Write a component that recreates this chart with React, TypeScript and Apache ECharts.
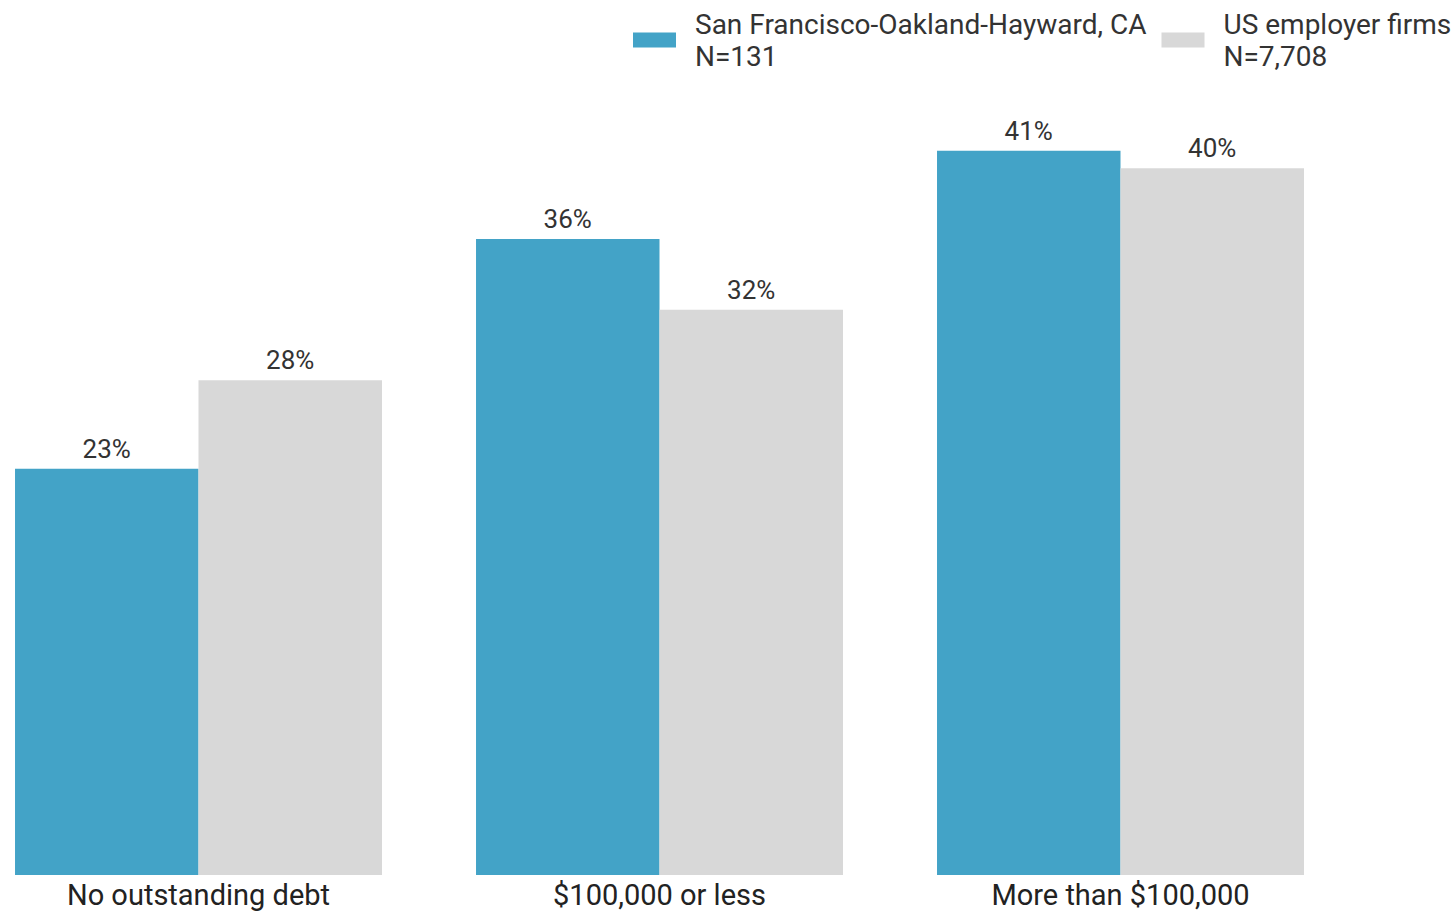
import React, { useEffect, useRef } from "react";
import * as echarts from "echarts";

const categories = ["No outstanding debt", "$100,000 or less", "More than $100,000"];
const sfValues = [23, 36, 41];
const usValues = [28, 32, 40];
const seriesNames = ["San Francisco-Oakland-Hayward, CA\nN=131", "US employer firms\nN=7,708"];

export default function App() {
  const ref = useRef<HTMLDivElement>(null);
  useEffect(() => {
    const chart = echarts.init(ref.current!, null, { renderer: "svg" });
    const font = "Roboto, 'Noto Sans', sans-serif";
    chart.setOption({
      animation: false,
      textStyle: { fontFamily: font },
      legend: {
        left: 665,
        top: 3,
        width: 1000,
        padding: 0,
        orient: "horizontal",
        itemWidth: 43,
        itemHeight: 15,
        itemGap: 0,
        icon: "rect",
        textStyle: { fontSize: 28, color: "#333", lineHeight: 32, fontFamily: font, padding: [0, 15, 10, 14] },
        data: seriesNames,
      },
      grid: { left: 0, right: 104, top: 80, bottom: 38, containLabel: false },
      xAxis: {
        type: "category",
        data: categories,
        axisLine: { show: false },
        axisTick: { show: false },
        axisLabel: { fontSize: 29, color: "#222", margin: 5, fontFamily: font, lineHeight: 30 },
      },
      yAxis: { type: "value", min: 0, max: 45, show: false, splitLine: { show: false } },
      series: [
        {
          name: seriesNames[0],
          type: "bar",
          data: sfValues,
          barGap: "0%",
          barCategoryGap: "20.4%",
          itemStyle: { color: "#43A3C7" },
          label: { show: true, position: "top", distance: 7, formatter: "{c}%", fontSize: 26, color: "#333", fontFamily: font },
        },
        {
          name: seriesNames[1],
          type: "bar",
          data: usValues,
          barGap: "0%",
          barCategoryGap: "20.4%",
          itemStyle: { color: "#D8D8D8" },
          label: { show: true, position: "top", distance: 7, formatter: "{c}%", fontSize: 26, color: "#333", fontFamily: font },
        },
      ],
    });
    return () => chart.dispose();
  }, []);
  return (
    <div style={{ position: "fixed", left: 0, top: 0, width: 1455, height: 913, overflow: "hidden", background: "#fff" }}>
      <div ref={ref} style={{ position: "absolute", left: -32, top: 0, width: 1487, height: 913 }} />
    </div>
  );
}
